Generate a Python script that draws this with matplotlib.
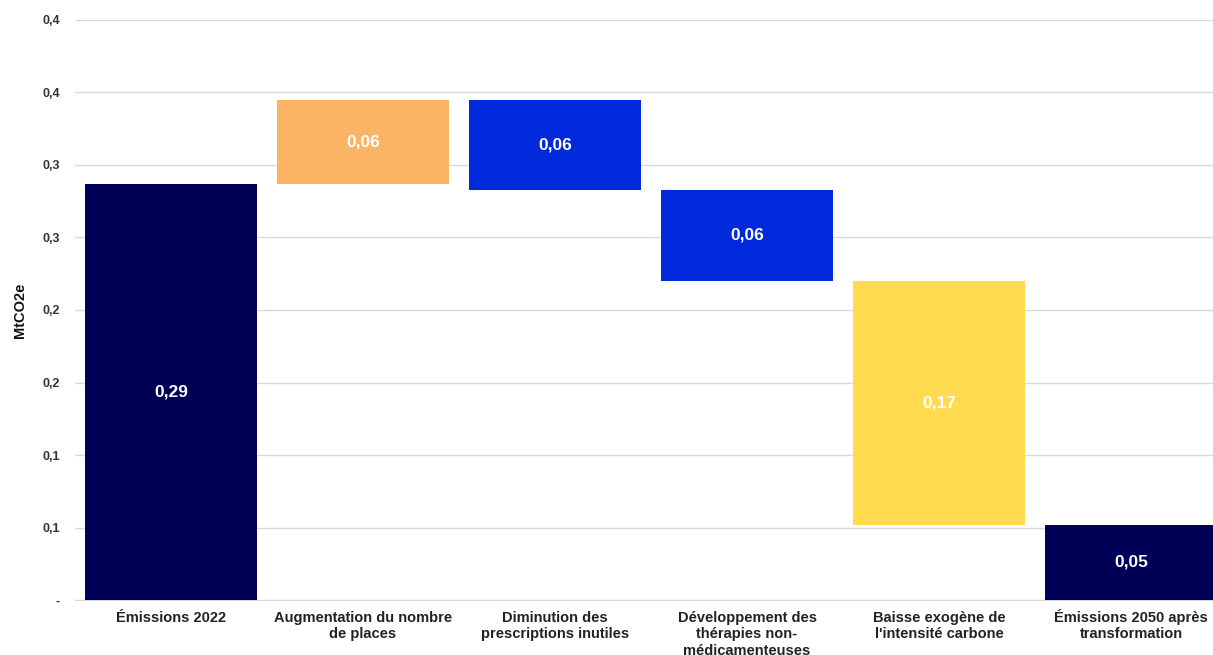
import matplotlib
matplotlib.use("Agg")
import matplotlib.pyplot as plt
from matplotlib.ticker import FuncFormatter, MultipleLocator
import math

categories = ["Émissions 2022", "Augmentation du nombre\nde places", "Diminution des\nprescriptions inutiles",
              "Développement des\nthérapies non-\nmédicamenteuses", "Baisse exogène de\nl'intensité carbone",
              "Émissions 2050 après\ntransformation"]
start_value = 0.287
changes = [0.058, -0.062, -0.063, -0.168]
end_value = 0.052
colors = ["#000057", "#FAB464", "#0029DB", "#0029DB", "#FFDB4D", "#000057"]

plt.rcParams['font.family'] = ['Liberation Sans', 'DejaVu Sans']

fig = plt.figure(figsize=(12.13, 6.55), dpi=100)
ax = fig.add_axes([75/1213, 55/655, 1152/1213, 580/655])

bottoms, heights = [0.0], [start_value]
level = start_value
for c in changes:
    if c >= 0:
        bottoms.append(level); heights.append(c)
    else:
        bottoms.append(level + c); heights.append(-c)
    level += c
bottoms.append(0.0); heights.append(end_value)

x = list(range(len(categories)))
ax.bar(x, heights, bottom=bottoms, width=0.9, color=colors, zorder=3)
for xi, b, h in zip(x, bottoms, heights):
    ax.text(xi, b + h/2, f"{h:.2f}".replace('.', ','), ha='center', va='center',
            color='white', fontsize=12.5, fontweight='bold', zorder=4)

ax.set_xlim(-0.5, len(categories) - 0.5)
ax.set_ylim(0, 0.4)
ax.yaxis.set_major_locator(MultipleLocator(0.05))

def fmt(v, pos):
    if abs(v) < 1e-9:
        return "-"
    r = math.floor(v * 10 + 0.5 + 1e-9) / 10
    return f"{r:.1f}".replace('.', ',')

ax.yaxis.set_major_formatter(FuncFormatter(fmt))
ax.grid(axis='y', color='#D9D9D9', linewidth=1, zorder=0)
for s in ['top', 'right', 'left']:
    ax.spines[s].set_visible(False)
ax.spines['bottom'].set_color('#D9D9D9')
ax.tick_params(axis='y', length=0, pad=11, labelsize=9, labelcolor='#333333')
ax.set_xticks(x)
ax.set_xticklabels([])
ax.tick_params(axis='x', length=0)
for xi, lab in zip(x, categories):
    for k, line in enumerate(lab.split("\n")):
        ax.annotate(line, xy=(xi, 0), xycoords=('data', 'axes fraction'),
                    xytext=(0, -15.8 - 11.8 * k), textcoords='offset points',
                    ha='center', va='baseline', fontsize=10.5, fontweight='bold',
                    color='#222222', annotation_clip=False)
for lab in ax.get_yticklabels():
    lab.set_fontweight('bold')
ax.set_ylabel("MtCO2e", fontsize=10.5, fontweight='bold', color='#111111')
ax.yaxis.set_label_coords(-0.042, 0.5)

fig.savefig("out.png", dpi=100)
